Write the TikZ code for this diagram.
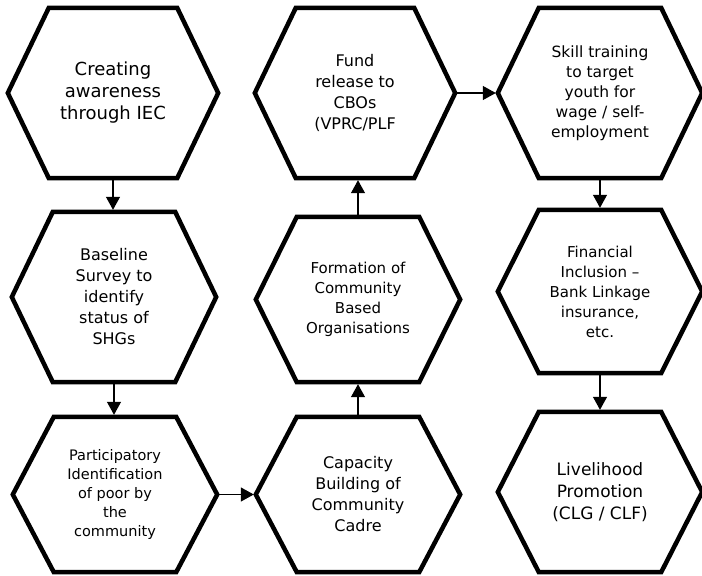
\documentclass[tikz,border=0pt]{standalone}
\usepackage{fontspec}
\setmainfont{DejaVu Sans}
\usetikzlibrary{arrows.meta}
\begin{document}
\begin{tikzpicture}[x=1pt,y=-1pt,>={Triangle[width=14pt,length=13pt]},line join=miter,
	hexnode/.style={minimum width=204pt,minimum height=170pt,inner sep=0pt,align=center},
	hexline/.style={line width=4.5pt},
	link/.style={->,line width=1.2pt,shorten >=2pt,shorten <=2pt}]
	\def\ch{41pt} % chamfer of the hexagons
	\useasboundingbox (0,0) rectangle (702,576);
	% column 1
	\node[hexnode,minimum width=210pt,font=\fontsize{18}{22}\selectfont] (iec) at (113,93) {Creating\\awareness\\through IEC};
	\node[hexnode,font=\fontsize{16}{21}\selectfont] (survey) at (114,297) {Baseline\\Survey to\\identify\\status of\\SHGs};
	\node[hexnode,minimum height=155pt,font=\fontsize{14.5}{19}\selectfont] (ident) at (115,494.5) {Participatory\\Identification\\of poor by\\the\\community};
	% column 2
	\node[hexnode,minimum height=155pt,font=\fontsize{16}{21}\selectfont] (cadre) at (358,494.5) {Capacity\\Building of\\Community\\Cadre};
	\node[hexnode,minimum height=165pt,font=\fontsize{15}{20}\selectfont] (cbo) at (358,299.5) {Formation of\\Community\\Based\\Organisations};
	\node[hexnode,minimum width=200pt,font=\fontsize{16}{21}\selectfont] (fund) at (355,93) {Fund\\release to\\CBOs\\(VPRC/PLF};
	% column 3
	\node[hexnode,font=\fontsize{15.5}{20}\selectfont] (skill) at (600,93) {Skill training\\to target\\youth for\\wage / self-\\employment};
	\node[hexnode,minimum height=163pt,font=\fontsize{15}{20}\selectfont] (fin) at (600,291.5) {Financial\\Inclusion --\\Bank Linkage\\insurance,\\etc.};
	\node[hexnode,minimum height=160pt,font=\fontsize{17}{22}\selectfont] (live) at (600,492) {Livelihood\\Promotion\\(CLG / CLF)};
	\foreach \n in {iec,survey,ident,cadre,cbo,fund,skill,fin,live}
	\draw[hexline] (\n.west) -- ([xshift=\ch]\n.north west) -- ([xshift=-\ch]\n.north east)
	-- (\n.east) -- ([xshift=-\ch]\n.south east) -- ([xshift=\ch]\n.south west) -- cycle;
	% connectors
	\draw[link] (iec.south) -- (iec.south |- survey.north);
	\draw[link] (survey.south) -- (survey.south |- ident.north);
	\draw[link] (ident.east) -- (cadre.west);
	\draw[link] (cadre.north) -- (cadre.north |- cbo.south);
	\draw[link] (cbo.north) -- (cbo.north |- fund.south);
	\draw[link] (fund.east) -- (fund.east -| skill.west);
	\draw[link] (skill.south) -- (skill.south |- fin.north);
	\draw[link] (fin.south) -- (fin.south |- live.north);
\end{tikzpicture}
\end{document}
